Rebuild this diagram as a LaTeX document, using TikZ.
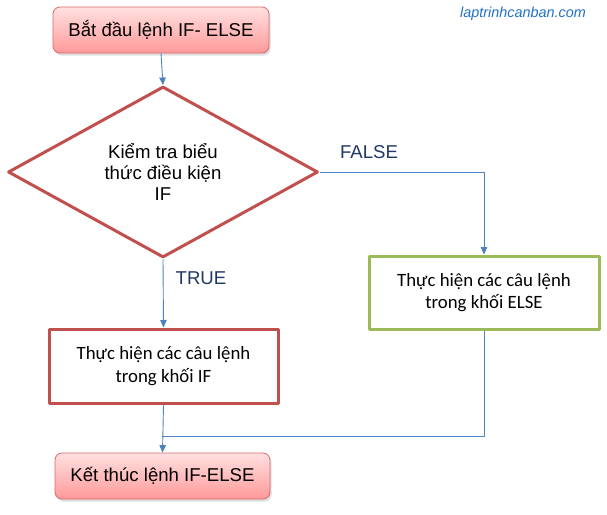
\documentclass[tikz,border=0pt]{standalone}
\usepackage{fontspec}
\setmainfont{Liberation Sans}
\newfontfamily\calibri{Carlito}
\usetikzlibrary{shapes.geometric,shadows,arrows.meta}
\definecolor{linkblue}{HTML}{4F81BD}
\definecolor{ifred}{HTML}{C0504D}
\definecolor{elsegreen}{HTML}{9BBB59}
\definecolor{termred}{HTML}{D96A6A}
\definecolor{labelnavy}{HTML}{1F3864}
\definecolor{webblue}{HTML}{1F70C8}
\tikzset{
	termbox/.style={draw=termred, line width=0.8pt, rounded corners=7pt,
		top color=red!12, bottom color=red!40, minimum width=216pt, minimum height=46pt,
		drop shadow={shadow xshift=1.5pt, shadow yshift=-2.5pt, fill=black!25}},
	stepbox/.style={draw, line width=3pt, minimum width=229pt, minimum height=74pt,
		align=center, font=\calibri\fontsize{18.8}{22.8}\selectfont},
	testbox/.style={diamond, draw=ifred, line width=3pt, aspect=1.8, inner sep=0pt,
		minimum width=310pt, minimum height=171pt, align=center},
	link/.style={draw=linkblue, line width=0.9pt},
	branch/.style={text=labelnavy}
}
\begin{document}
\begin{tikzpicture}[x=1pt, y=-1pt, font=\fontsize{18.6}{21}\selectfont, line join=round, >={Triangle[length=7.5pt,width=6.5pt]}]
	\useasboundingbox (0,0) rectangle (607,514);
	%%%%%%%%%%%%%%%%%%%%%%%%%%%%%%%%%
	\node[termbox] (start) at (161,30) {Bắt đầu lệnh IF- ELSE};
	\node[testbox] (test) at (163,172) {Kiểm tra biểu\\thức điều kiện\\IF};
	\node[stepbox, draw=elsegreen, minimum width=230pt, minimum height=73pt] (elsestep) at (484,292.5) {Thực hiện các câu lệnh\\trong khối ELSE};
	\node[stepbox, draw=ifred] (ifstep) at (163.5,366) {Thực hiện các câu lệnh\\trong khối IF};
	\node[termbox, minimum width=215pt] (stop) at (162.5,476) {Kết thúc lệnh IF-ELSE};
	\coordinate (join) at (162,436);
	%%%%%%%%%%%%%%%%%%%%%%%%%%%%%%%%%
	\node[branch] (false) at (369,152) {FALSE};
	\node[branch] (true) at (201,278) {TRUE};
	\node[text=webblue, font=\itshape\fontsize{14.4}{16}\selectfont] (site) at (523,14) {laptrinhcanban.com};
	%%%%%%%%%%%%%%%%%%%%%%%%%%%%%%%%%
	\draw[link, ->] (start.south) -- (test.north);
	\draw[link, ->] (test.east) -| (elsestep.north);
	\draw[link, ->] (test.south) -- (ifstep.north);
	\draw[link, ->] (ifstep.south) -- (stop.north);
	\draw[link] (elsestep.south) |- (join);
	%%%%%%%%%%%%%%%%%%%%%%%%%%%%%%%%%
\end{tikzpicture}
\end{document}
